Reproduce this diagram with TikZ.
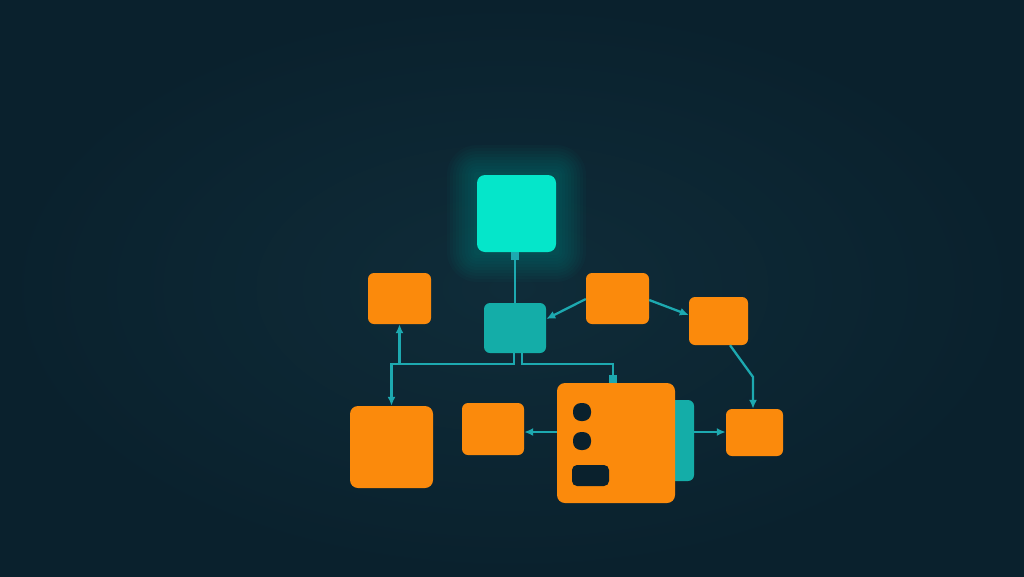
\documentclass[tikz,border=0pt]{standalone}
\usetikzlibrary{arrows.meta}
\definecolor{bgc}{HTML}{0A212D}
\definecolor{bgin}{HTML}{0F2C39}
\definecolor{cyanbox}{HTML}{05E6CA}
\definecolor{tealbox}{HTML}{14ADA8}
\definecolor{orng}{HTML}{FB8A0C}
\definecolor{linec}{HTML}{1DA9B0}
\tikzset{
  x=1pt,y=-1pt,
  box/.style={fill=orng, rounded corners=6pt, inner sep=0pt},
  conn/.style={draw=linec, line width=2.3pt, -{Latex[length=9pt,width=8pt]}},
  stubconn/.style={draw=linec, line width=2.3pt, -{Rectangle[length=8pt,width=7.5pt]}},
  hole/.style={fill=bgc, rounded corners=4pt, inner sep=0pt},
}
\begin{document}
\begin{tikzpicture}
\useasboundingbox (0,0) rectangle (1024,576);
\shade[inner color=bgin, outer color=bgc] (0,0) rectangle (1024,576);
% glow of top box
\foreach \g in {30,27,...,3}{
  \fill[cyanbox, opacity=0.025, rounded corners=\g pt] (477-\g,175-\g) rectangle (556+\g,252+\g);
}
% nodes
\node[box, fill=cyanbox, rounded corners=8pt, minimum width=79pt, minimum height=77pt] (top) at (516.5,213.5) {};
\node[box, minimum width=63pt, minimum height=51pt] (lo) at (399.5,298.5) {};
\node[box, fill=tealbox, minimum width=62pt, minimum height=50pt] (teal) at (515,328) {};
\node[box, minimum width=63pt, minimum height=51pt] (tro) at (617.5,298.5) {};
\node[box, minimum width=59pt, minimum height=48pt] (ro) at (718.5,321) {};
\node[box, rounded corners=8pt, minimum width=83pt, minimum height=82pt] (blo) at (391.5,447) {};
\node[box, minimum width=62pt, minimum height=52pt] (mo) at (493,429) {};
\node[box, fill=tealbox, rounded corners=6pt, minimum width=30pt, minimum height=81pt] (tab) at (679,440.5) {};
\node[box, rounded corners=8pt, minimum width=118pt, minimum height=120pt] (big) at (616,443) {};
\node[box, minimum width=57pt, minimum height=47pt] (bro) at (754.5,432.5) {};
% holes in big box
\node[hole, rounded corners=8pt, minimum width=18pt, minimum height=18pt] (h1) at (582,412) {};
\node[hole, rounded corners=8pt, minimum width=18pt, minimum height=18pt] (h2) at (582,441) {};
\node[hole, rounded corners=5pt, minimum width=37pt, minimum height=21pt] (h3) at (590.5,475.5) {};
% connectors
\coordinate (hb) at (0,364);
\coordinate (bigin) at ([xshift=-3pt]big.north);
\draw[stubconn] (teal.north) -- (teal.north |- top.south);
\draw[conn] ([yshift=-0.5pt]tro.west) -- ([yshift=9pt]teal.east);
\draw[conn] ([yshift=-1.5pt]tro.east) -- ([yshift=6pt]ro.west);
\coordinate (bend) at (753,377);
\draw[conn] ([xshift=11.5pt]ro.south) -- (bend) -- (bend |- bro.north);
\draw[conn] ([xshift=-1pt]teal.south) |- (hb -| blo.north) -- (blo.north);
\draw[conn] (lo.south |- hb) -- (lo.south);
\draw[stubconn] ([xshift=7pt]teal.south) |- (hb -| bigin) -- (bigin);
\draw[conn] ([yshift=11pt]big.west) -- ([yshift=-3pt]mo.east);
\draw[conn] ([yshift=8.5pt]tab.east) -- ([yshift=0.5pt]bro.west);
\end{tikzpicture}
\end{document}
